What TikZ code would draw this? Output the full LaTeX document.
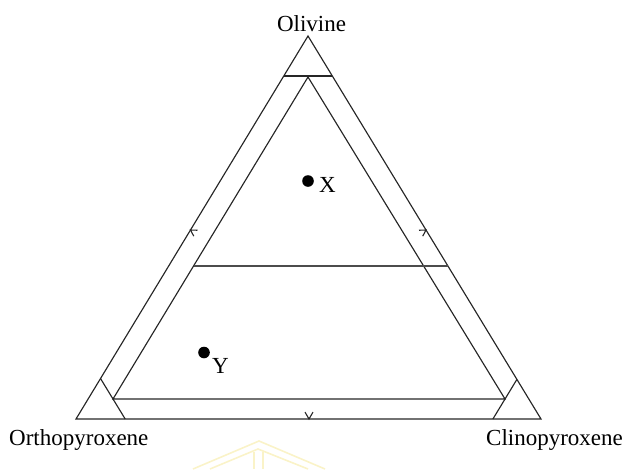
\documentclass[tikz,border=0pt]{standalone}
\usepackage{fontspec}
\setmainfont{Liberation Serif}
\definecolor{wm}{RGB}{250,243,200}
\begin{document}
\begin{tikzpicture}[x=1pt,y=1pt,
  edge/.style={line width=1.15pt, draw=black!85, line join=miter},
  midline/.style={line width=1.6pt, draw=black!70},
  chev/.style={line width=1.1pt, draw=black!85},
  dot/.style={circle, fill=black, inner sep=0pt, minimum size=11.6pt},
  lbl/.style={inner sep=0pt, font=\fontsize{23}{27}\selectfont},
  wmark/.style={line width=1.6pt, draw=wm}]
\useasboundingbox (0,0) rectangle (627,-469);
% outer triangle
\coordinate (O) at (308,-36);
\coordinate (L) at (76,-419);
\coordinate (R) at (541,-419);
% inner triangle
\coordinate (IA) at (308,-77);
\coordinate (IL) at (113,-399);
\coordinate (IR) at (505,-399);
% corner cut lines
\coordinate (T1) at (283.8,-76);
\coordinate (T2) at (332.3,-76);
\coordinate (BL1) at (100.5,-378.5);
\coordinate (BL2) at (125.2,-419);
\coordinate (BR1) at (516.9,-379.4);
\coordinate (BR2) at (492.9,-419);
% middle line
\coordinate (M1) at (193.5,-266);
\coordinate (M2) at (447.9,-266);
% arrow tips
\coordinate (AL) at (190.5,-230);
\coordinate (AR) at (426,-230);
\coordinate (AB) at (309,-419);

\draw[edge] (O) -- (L) -- (R) -- cycle;
\draw[edge] (IA) -- (IL) -- (IR) -- cycle;
\draw[edge] (T1) -- (T2);
\draw[edge] (BL1) -- (BL2);
\draw[edge] (BR1) -- (BR2);
\draw[midline] (M1) -- (M2);

\draw[chev] (AL) ++(298:7) -- (AL) -- ++(358:7);
\draw[chev] (AR) ++(182:7) -- (AR) -- ++(242:7);
\draw[chev] (AB) ++(60:8) -- (AB) -- ++(120:8);

\node[dot] (X) at (308,-181) {};
\node[dot] (Y) at (204,-352.5) {};
\node[lbl, anchor=base west] (Xl) at (319,-192) {X};
\node[lbl, anchor=base west] (Yl) at (212,-373) {Y};

\node[lbl, anchor=base] (Ol) at (311.5,-31) {Olivine};
\node[lbl, anchor=base west] (Op) at (9,-445) {Orthopyroxene};
\node[lbl, anchor=base west] (Cp) at (486,-445) {Clinopyroxene};

% faint watermark
\coordinate (W1) at (193,-469);
\coordinate (W2) at (259,-441);
\coordinate (W3) at (325,-469);
\coordinate (W4) at (210,-469);
\coordinate (W5) at (258,-449);
\coordinate (W6) at (308,-469);
\draw[wmark] (W1) -- (W2) -- (W3);
\draw[wmark] (W4) -- (W5) -- (W6);
\draw[wmark] (254,-452) -- (254,-469);
\draw[wmark] (263,-452) -- (263,-469);
\end{tikzpicture}
\end{document}
